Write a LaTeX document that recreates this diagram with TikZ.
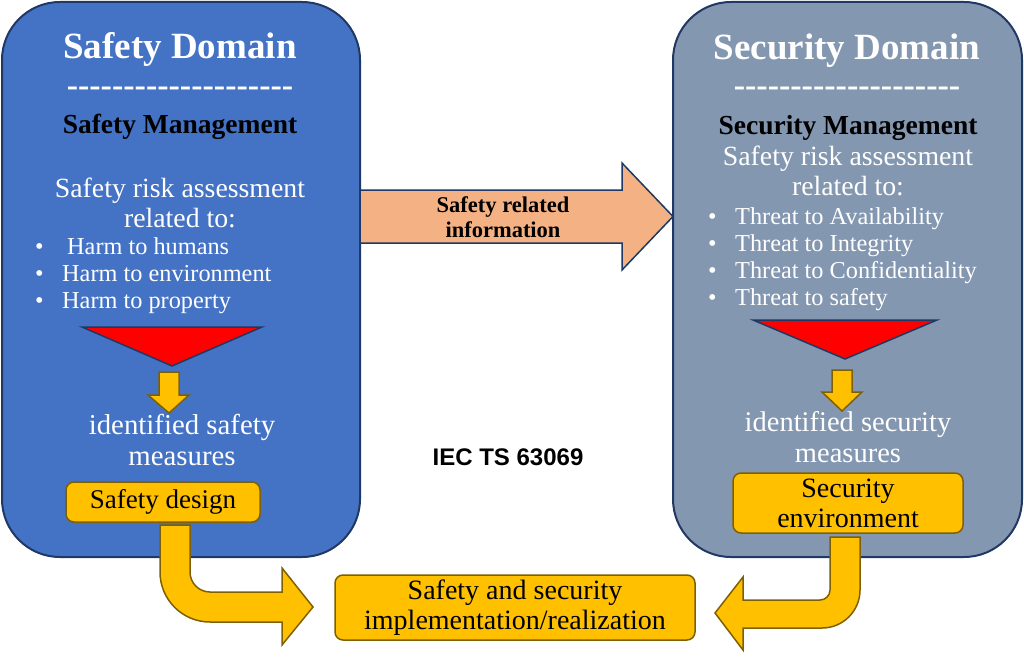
\documentclass[tikz,border=0pt]{standalone}
\usepackage{fontspec}
\setmainfont{Liberation Serif}
\newfontfamily\dashfont{Liberation Serif}
\newfontfamily\iecfont{Liberation Sans}
\usepackage{xcolor}
\usepackage{tikz}
\definecolor{safeblue}{RGB}{68,114,196}
\definecolor{secgrey}{RGB}{132,151,176}
\definecolor{navy}{RGB}{32,56,100}
\definecolor{gold}{RGB}{255,192,0}
\definecolor{goldedge}{RGB}{127,96,0}
\definecolor{peach}{RGB}{244,177,131}
\tikzstyle{domainbox} = [draw=navy, line width=2pt, rounded corners=58pt, inner sep=0pt]
\tikzstyle{goldbox} = [draw=goldedge, fill=gold, line width=1.5pt, rounded corners=8pt, inner sep=0pt, align=center, font=\fontsize{28}{30}\selectfont]
\tikzstyle{goldarrow} = [draw=goldedge, fill=gold, line width=1.5pt]
\tikzstyle{funnel} = [draw=navy, fill=red, line width=1.5pt]
\tikzstyle{infoarrow} = [draw=navy, fill=peach, line width=1.5pt]
\tikzstyle{titletext} = [text=white, anchor=base, font=\bfseries\fontsize{37}{40}\selectfont]
\tikzstyle{dashline} = [text=white, anchor=base, font=\dashfont\bfseries\fontsize{34}{40}\selectfont]
\tikzstyle{mgmttext} = [text=black, anchor=base, font=\bfseries\fontsize{27.5}{30}\selectfont]
\tikzstyle{assesstext} = [text=white, align=center, font=\fontsize{27.8}{30}\selectfont]
\tikzstyle{itemlist} = [text=white, anchor=west, align=left, inner sep=0pt, font=\fontsize{24.3}{27}\selectfont]
\newcommand{\itm}{\makebox[27pt][l]{\textbullet}}

\begin{document}
\begin{tikzpicture}[x=1pt,y=1pt]
\useasboundingbox (0,0) rectangle (1024,-658);

% the two domains
\node[domainbox, fill=safeblue, minimum width=358pt, minimum height=555pt] (safedom) at (181,-279.5) {};
\node[domainbox, fill=secgrey, minimum width=349pt, minimum height=555pt] (secdom) at (847.5,-279.5) {};

% safety side
\node[titletext] (safetitle) at (180,-59) {Safety Domain};
\node[dashline] (safedash) at (180,-96) {--------------------};
\node[mgmttext] (safemgmt) at (180,-133) {Safety Management};
\node[assesstext] (safeassess) at (180,-203) {Safety risk assessment\\related to:};
\node[itemlist] (safeitems) at (35,-276) {\itm\hspace{5pt}Harm to humans\\\itm Harm to environment\\\itm Harm to property};
\draw[funnel] (82,-327) -- (262,-327) -- (172,-366) -- cycle;
\draw[goldarrow] (159,-372) -- (179,-372) -- (179,-395) -- (189,-395) -- (169,-413) -- (148,-395) -- (159,-395) -- cycle;
\node[assesstext, font=\fontsize{28.8}{31}\selectfont] (safemeas) at (182,-440) {identified safety\\measures};
\node[goldbox, font=\fontsize{27}{30}\selectfont, minimum width=194pt, minimum height=40pt] (safedesign) at (163,-502) {Safety design};

% security side
\node[titletext] (sectitle) at (847,-60) {Security Domain};
\node[dashline] (secdash) at (847,-97) {--------------------};
\node[mgmttext] (secmgmt) at (848,-134) {Security Management};
\node[assesstext] (secassess) at (848,-171) {Safety risk assessment\\related to:};
\node[itemlist] (secitems) at (708,-259) {\itm Threat to Availability\\\itm Threat to Integrity\\\itm Threat to Confidentiality\\\itm Threat to safety};
\draw[funnel] (753,-320) -- (937,-320) -- (845,-359) -- cycle;
\draw[goldarrow] (832,-370) -- (852,-370) -- (852,-392) -- (862,-392) -- (842,-411) -- (822,-392) -- (832,-392) -- cycle;
\node[assesstext, font=\fontsize{28.5}{31}\selectfont] (secmeas) at (848,-437) {identified security\\measures};
\node[goldbox, minimum width=230pt, minimum height=60pt] (secenv) at (848,-503) {Security\\environment};

% between the domains
\draw[infoarrow] (360,-190) -- (622,-190) -- (622,-163) -- (673,-216.5) -- (622,-270) -- (622,-243) -- (360,-243) -- cycle;
\node[align=center, font=\bfseries\fontsize{22.5}{25}\selectfont] (info) at (503,-217) {Safety related\\information};
\node[anchor=base, font=\iecfont\bfseries\fontsize{24}{28}\selectfont] (iec) at (508,-465) {IEC TS 63069};
\node[goldbox, minimum width=360pt, minimum height=65pt] (impl) at (515,-607.5) {Safety and security\\implementation/realization};

% bent arrows into the implementation box
\draw[goldarrow] (160,-525) -- (160,-572) arc[start angle=180, end angle=270, radius=50pt] -- (282,-622) -- (282,-645) -- (313,-607) -- (282,-568) -- (282,-592) -- (210,-592) arc[start angle=270, end angle=180, radius=20pt] -- (190,-525) -- cycle;
\draw[goldarrow] (860,-537) -- (860,-590) arc[start angle=0, end angle=-90, radius=38pt] -- (743,-628) -- (743,-650) -- (715,-613) -- (743,-577) -- (743,-600) -- (820,-600) arc[start angle=-90, end angle=0, radius=10pt] -- (830,-537) -- cycle;
\end{tikzpicture}
\end{document}
